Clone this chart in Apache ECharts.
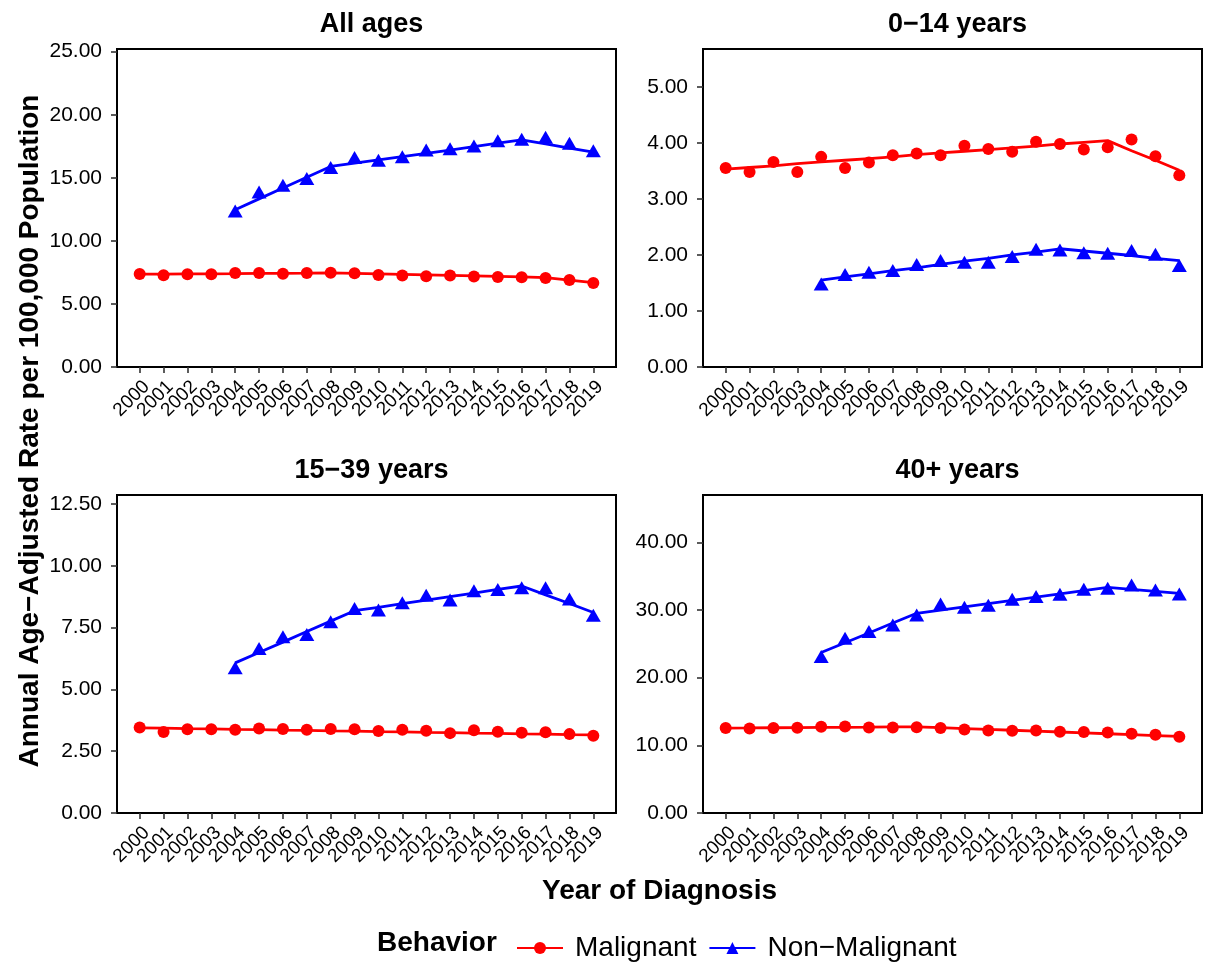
<!DOCTYPE html>
<html>
<head>
<meta charset="utf-8">
<script src="https://cdn.jsdelivr.net/npm/echarts@6/dist/echarts.min.js"></script>
<style>html,body{margin:0;padding:0;background:#fff}#c{width:1205px;height:964px}</style>
</head>
<body>
<div id="c"></div>
<script>
// ---- data ----
const years = [2000,2001,2002,2003,2004,2005,2006,2007,2008,2009,2010,2011,2012,2013,2014,2015,2016,2017,2018,2019];
const nmYears = [2004,2005,2006,2007,2008,2009,2010,2011,2012,2013,2014,2015,2016,2017,2018,2019];

const panelTitles = ['All ages', '0\u221214 years', '15\u221239 years', '40+ years'];

// All ages
const allMal    = [7.38,7.27,7.35,7.35,7.46,7.46,7.40,7.46,7.48,7.43,7.30,7.25,7.19,7.25,7.17,7.14,7.11,7.06,6.90,6.66];
const allMalFit = [7.36,7.37,7.38,7.39,7.40,7.42,7.43,7.44,7.46,7.42,7.38,7.34,7.30,7.26,7.22,7.18,7.14,7.09,6.89,6.69];
const allNon    = [12.37,13.88,14.41,14.94,15.82,16.61,16.40,16.67,17.20,17.30,17.52,17.94,18.05,18.21,17.73,17.14];
const allNonFit = [12.47,13.33,14.19,15.05,15.90,16.16,16.42,16.68,16.93,17.19,17.47,17.74,18.00,17.68,17.36,17.04];
// 0-14 years
const kidMal    = [3.55,3.48,3.66,3.48,3.75,3.55,3.65,3.78,3.81,3.78,3.95,3.89,3.84,4.02,3.98,3.88,3.92,4.06,3.76,3.42];
const kidMalFit = [3.53,3.56,3.59,3.63,3.66,3.69,3.72,3.75,3.79,3.82,3.85,3.88,3.91,3.94,3.98,4.01,4.04,3.86,3.69,3.51];
const kidNon    = [1.48,1.65,1.69,1.72,1.83,1.90,1.87,1.87,1.97,2.10,2.09,2.04,2.03,2.08,2.01,1.81];
const kidNonFit = [1.55,1.61,1.66,1.72,1.77,1.83,1.89,1.94,2.00,2.05,2.11,2.07,2.03,1.99,1.94,1.90];
// 15-39 years
const yaMal     = [3.46,3.28,3.39,3.39,3.37,3.42,3.40,3.37,3.40,3.39,3.32,3.37,3.33,3.23,3.35,3.29,3.25,3.27,3.19,3.12];
const yaMalFit  = [3.44,3.43,3.41,3.40,3.38,3.37,3.35,3.34,3.32,3.31,3.29,3.28,3.26,3.25,3.23,3.22,3.20,3.19,3.17,3.16];
const yaNon     = [5.87,6.65,7.13,7.22,7.73,8.27,8.21,8.50,8.81,8.61,8.99,9.04,9.11,9.11,8.65,8.00];
const yaNonFit  = [6.07,6.49,6.91,7.34,7.76,8.18,8.32,8.47,8.61,8.75,8.89,9.04,9.18,8.82,8.47,8.11];
// 40+ years
const oldMal    = [12.55,12.50,12.55,12.60,12.74,12.79,12.64,12.64,12.69,12.55,12.35,12.20,12.15,12.20,12.00,11.96,11.91,11.71,11.56,11.27];
const oldMalFit = [12.55,12.57,12.60,12.62,12.65,12.67,12.69,12.72,12.74,12.61,12.48,12.35,12.23,12.10,11.97,11.84,11.71,11.58,11.45,11.32];
const oldNon    = [23.12,25.83,26.81,27.80,29.27,30.90,30.41,30.70,31.59,31.98,32.32,33.06,33.21,33.70,32.96,32.37];
const oldNonFit = [23.71,25.16,26.61,28.07,29.52,30.00,30.48,30.96,31.44,31.92,32.40,32.88,33.36,33.06,32.77,32.47];

// y tick values and axis maxima per panel
const yTicks1 = [0,5,10,15,20,25];
const yTicks2 = [0,1,2,3,4,5];
const yTicks3 = [0,2.5,5,7.5,10,12.5];
const yTicks4 = [0,10,20,30,40];
const yMax = [25.21, 5.675, 12.86, 47.0];

const malName = 'Malignant';
const nonName = 'Non\u2212Malignant';
const RED = '#FF0000', BLUE = '#0000FF';
const FONT = '"Liberation Sans", Arial, Helvetica, sans-serif';

// ---- layout ----
const grids = [
  {left:117, top:49, width:499, height:318},
  {left:703, top:49, width:499, height:318},
  {left:117, top:495, width:499, height:318},
  {left:703, top:495, width:499, height:318}
];
const panels = [
  {mal:allMal, malFit:allMalFit, non:allNon, nonFit:allNonFit, ticks:yTicks1},
  {mal:kidMal, malFit:kidMalFit, non:kidNon, nonFit:kidNonFit, ticks:yTicks2},
  {mal:yaMal,  malFit:yaMalFit,  non:yaNon,  nonFit:yaNonFit,  ticks:yTicks3},
  {mal:oldMal, malFit:oldMalFit, non:oldNon, nonFit:oldNonFit, ticks:yTicks4}
];

const pair = (xs, ys) => xs.map((x, i) => [x, ys[i]]);
// Labels split over two overlaid axes (even / odd years) so rotated labels are never dropped.
const evenYears = years.filter(y => y % 2 === 0);
const oddYears = years.filter(y => y % 2 === 1);

const xLabelStyle = {
  rotate: 45, align: 'right', verticalAlign: 'top', margin: 10,
  showMinLabel: true, showMaxLabel: true, hideOverlap: false,
  fontSize: 19, color: '#000', fontFamily: FONT,
  formatter: v => String(Math.round(v))
};

const xAxes = [];
grids.forEach((g, i) => {
  xAxes.push({
    type: 'value', gridIndex: i, min: 1999.05, max: 2019.95,
    axisLine: {show: false}, splitLine: {show: false},
    axisTick: {show: true, length: 6, lineStyle: {color: '#333', width: 1.6}, customValues: years},
    axisLabel: Object.assign({customValues: evenYears}, xLabelStyle)
  });
});
grids.forEach((g, i) => {
  xAxes.push({
    type: 'value', gridIndex: i, min: 1999.05, max: 2019.95, position: 'bottom',
    axisLine: {show: false}, splitLine: {show: false},
    axisTick: {show: false},
    axisLabel: Object.assign({customValues: oddYears}, xLabelStyle)
  });
});

const option = {
  animation: false,
  backgroundColor: '#fff',
  textStyle: {fontFamily: FONT},
  grid: grids.map(g => Object.assign({show:true, borderColor:'#000', borderWidth:2, backgroundColor:'#fff', containLabel:false}, g)),
  title: panelTitles.map((t, i) => ({
    text: t,
    left: grids[i].left + grids[i].width / 2,
    top: grids[i].top - 43,
    textAlign: 'center',
    textStyle: {fontFamily: FONT, fontWeight: 'bold', fontSize: 27, color: '#000'}
  })),
  xAxis: xAxes,
  yAxis: panels.map((p, i) => ({
    type: 'value', gridIndex: i, min: 0, max: yMax[i],
    axisLine: {show: false},
    splitLine: {show: false},
    axisTick: {show: true, length: 6, lineStyle: {color: '#333', width: 1.6}, customValues: p.ticks},
    axisLabel: {customValues: p.ticks, margin: 15, fontSize: 21, color: '#000', fontFamily: FONT,
      showMinLabel: true, showMaxLabel: true,
      formatter: v => v.toFixed(2)}
  })),
  legend: {
    data: [malName, nonName],
    left: 511, top: 929,
    itemWidth: 46, itemHeight: 15, itemGap: 12,
    textStyle: {fontSize: 28, color: '#000', fontFamily: FONT, padding: [0, 0, 0, 7]},
    selectedMode: false
  },
  graphic: [
    {type: 'text', left: 377, top: 929, style: {text: 'Behavior', font: 'bold 28px ' + FONT, fill: '#000'}},
    {type: 'text', x: 659.5, y: 891, style: {text: 'Year of Diagnosis', font: 'bold 28px ' + FONT, fill: '#000', align: 'center', verticalAlign: 'middle'}},
    {type: 'text', x: 30, y: 431, rotation: Math.PI / 2, style: {text: 'Annual Age\u2212Adjusted Rate per 100,000 Population', font: 'bold 28px ' + FONT, fill: '#000', align: 'center', verticalAlign: 'middle'}}
  ],
  series: []
};

// legend icon series (empty)
option.series.push({type:'line', name: malName, data: [], xAxisIndex:0, yAxisIndex:0, symbol:'circle', symbolSize:12, itemStyle:{color:RED}, lineStyle:{color:RED, width:3}});
option.series.push({type:'line', name: nonName, data: [], xAxisIndex:0, yAxisIndex:0, symbol:'triangle', symbolSize:12, itemStyle:{color:BLUE}, lineStyle:{color:BLUE, width:3}});

panels.forEach((p, i) => {
  option.series.push({type:'scatter', name: malName, xAxisIndex:i, yAxisIndex:i, data: pair(years, p.mal), symbol:'circle', symbolSize:12, itemStyle:{color:RED, opacity:1}, z:2});
  option.series.push({type:'line', name: malName, xAxisIndex:i, yAxisIndex:i, data: pair(years, p.malFit), showSymbol:false, symbol:'none', lineStyle:{color:RED, width:2.8}, itemStyle:{color:RED}, z:3});
  option.series.push({type:'scatter', name: nonName, xAxisIndex:i, yAxisIndex:i, data: pair(nmYears, p.non), symbol:'triangle', symbolSize:[15,13], itemStyle:{color:BLUE, opacity:1}, z:2});
  option.series.push({type:'line', name: nonName, xAxisIndex:i, yAxisIndex:i, data: pair(nmYears, p.nonFit), showSymbol:false, symbol:'none', lineStyle:{color:BLUE, width:2.8}, itemStyle:{color:BLUE}, z:3});
});

const chart = echarts.init(document.getElementById('c'), null, {renderer: 'canvas'});
chart.setOption(option);
</script>
</body>
</html>
